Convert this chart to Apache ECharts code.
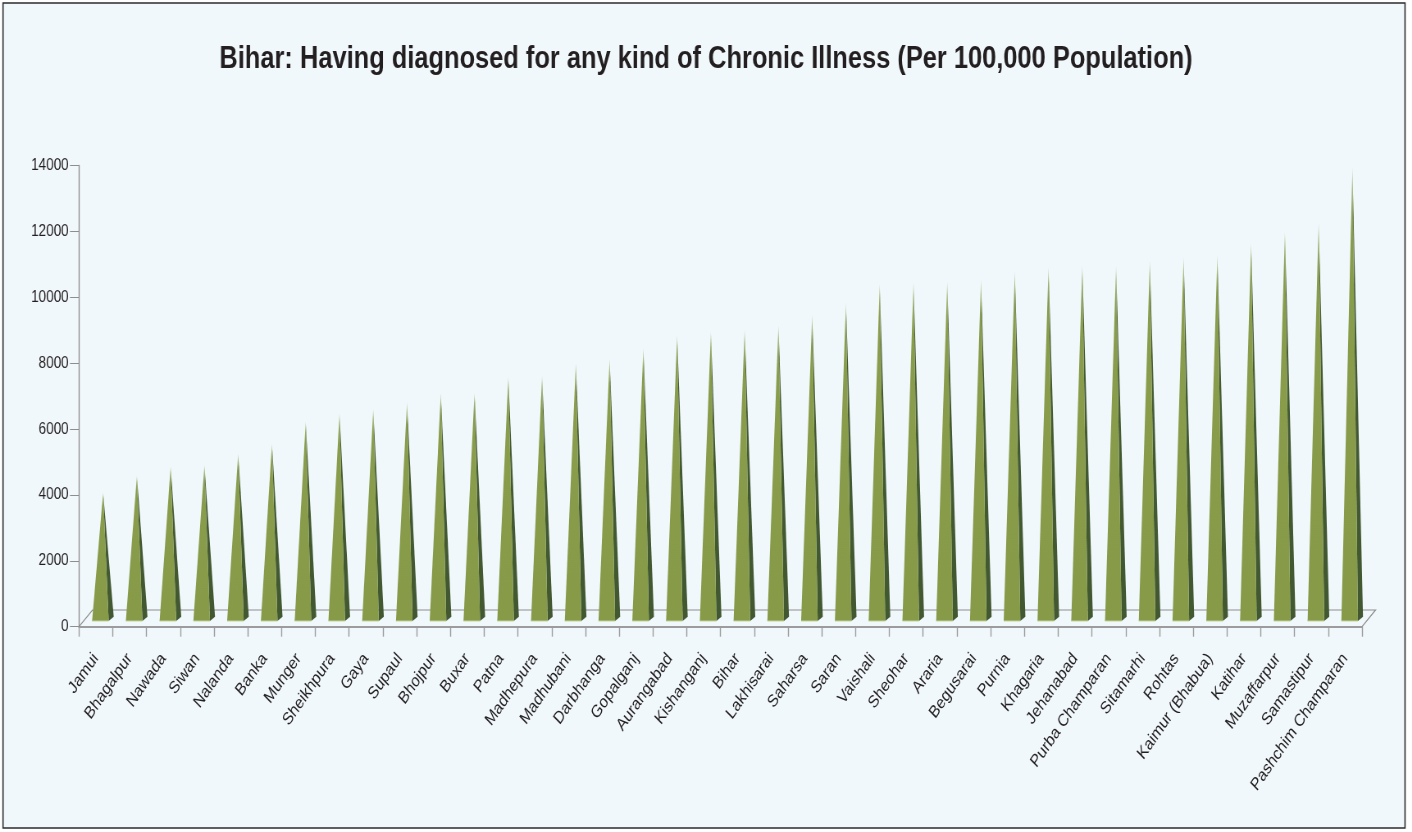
<!DOCTYPE html>
<html>
<head>
<meta charset="utf-8">
<script src="https://cdn.jsdelivr.net/npm/echarts@6/dist/echarts.min.js"></script>
<style>
html,body{margin:0;padding:0;background:#ffffff;overflow:hidden;}
#wrap{width:1412px;height:832px;overflow:hidden;position:relative;}
#chart{width:1722px;height:832px;transform:scaleX(0.82);transform-origin:0 0;}
</style>
</head>
<body>
<div id="wrap"><div id="chart"></div></div>
<script>
const titleText = 'Bihar: Having diagnosed for any kind of Chronic Illness (Per 100,000 Population)';
const categories = ['Jamui','Bhagalpur','Nawada','Siwan','Nalanda','Banka','Munger','Sheikhpura','Gaya','Supaul','Bhojpur','Buxar','Patna','Madhepura','Madhubani','Darbhanga','Gopalganj','Aurangabad','Kishanganj','Bihar','Lakhisarai','Saharsa','Saran','Vaishali','Sheohar','Araria','Begusarai','Purnia','Khagaria','Jehanabad','Purba Champaran','Sitamarhi','Rohtas','Kaimur (Bhabua)','Katihar','Muzaffarpur','Samastipur','Pashchim Champaran'];
const values = [4070,4580,4860,4910,5250,5550,6230,6480,6610,6810,7090,7110,7580,7620,8000,8130,8460,8850,8960,9020,9140,9470,9830,10410,10440,10480,10540,10790,10920,10960,10950,11120,11220,11290,11650,12000,12260,13950];
const yMin = 0, yMax = 14000, yStep = 2000;

const SX = 0.82;
const axisFont = "'Liberation Sans',Arial,Helvetica,sans-serif";
const titleFont = "'Liberation Sans',Arial,Helvetica,sans-serif";

const chart = echarts.init(document.getElementById('chart'), null, {renderer:'canvas'});

function renderFloor(params, api){
  const cs = params.coordSys;
  const x0 = cs.x, x1 = cs.x + cs.width, y0 = cs.y + cs.height;
  const dx = 16.5, dy = 16.7;
  return {
    type:'polyline',
    shape:{points:[[x0,y0],[x0+dx,y0-dy],[x1+dx,y0-dy],[x1,y0]]},
    style:{stroke:'#8e8e8e', lineWidth:1.2, fill:null},
    silent:true
  };
}

function renderPyramid(params, api){
  const i = api.value(0), v = api.value(1);
  const t = api.coord([i, v]);
  const b = api.coord([i, 0]);
  const bw = api.size([1, 0])[0];
  const cx = b[0];
  const L = cx - 0.112*bw, R = cx + 0.379*bw, by = b[1] - 5.7;
  const sdx = 0.15*bw, sdy = 4.3;
  const ax = cx + 0.215*bw, ay = t[1];
  const frontFill = new echarts.graphic.LinearGradient(0,0,0,1,[
    {offset:0, color:'#d3ddb6'},
    {offset:0.04, color:'#a3b56c'},
    {offset:0.1, color:'#899d4c'},
    {offset:1, color:'#869a48'}
  ]);
  const sideFill = new echarts.graphic.LinearGradient(0,0,0,1,[
    {offset:0, color:'#c6d2b0'},
    {offset:0.04, color:'#62783f'},
    {offset:0.1, color:'#445b33'},
    {offset:1, color:'#415830'}
  ]);
  return {
    type:'group',
    children:[
      {type:'polygon', shape:{points:[[R,by],[R+sdx,by-sdy],[ax,ay]]}, style:{fill:sideFill}},
      {type:'polygon', shape:{points:[[L,by],[R,by],[ax,ay]]}, style:{fill:frontFill}},
      {type:'line', shape:{x1:L, y1:by, x2:R, y2:by}, style:{stroke:'#c3d29c', lineWidth:1}}
    ]
  };
}

const option = {
  animation:false,
  backgroundColor:'#ffffff',
  graphic:[{
    type:'rect', z:-10, silent:true,
    shape:{x:3/SX, y:3, width:(1405-3)/SX, height:825},
    style:{fill:'#f1f8fc', stroke:'#2b2b2b', lineWidth:1.6}
  }],
  title:{
    text:titleText,
    left:'center', top:44, padding:0,
    textStyle:{fontFamily:titleFont, fontSize:31, fontWeight:'bold', color:'#231f20'}
  },
  grid:{left:96.3, right:61, top:165.5, bottom:205.3, containLabel:false},
  xAxis:{
    type:'category',
    data:categories,
    boundaryGap:true,
    axisLine:{show:true, lineStyle:{color:'#9c9c9c', width:2}},
    axisTick:{show:true, alignWithLabel:false, length:10, lineStyle:{color:'#9c9c9c', width:1.4}},
    axisLabel:{interval:0, rotate:50, margin:29, fontFamily:axisFont, fontSize:17.5, color:'#231f20'},
    splitLine:{show:false}
  },
  yAxis:{
    type:'value',
    min:yMin, max:yMax, interval:yStep,
    axisLine:{show:true, lineStyle:{color:'#8e8e8e', width:1.4}},
    axisTick:{show:true, length:11, lineStyle:{color:'#8e8e8e', width:1}},
    axisLabel:{margin:12.5, fontFamily:axisFont, fontSize:16.5, color:'#231f20', formatter:function(v){return String(v);}},
    splitLine:{show:false}
  },
  series:[
    {
      type:'custom', name:'floor', z:1, silent:true,
      renderItem:renderFloor,
      data:[[0,0]],
      encode:{x:0, y:1}
    },
    {
      type:'custom', name:'Chronic Illness', z:3,
      renderItem:renderPyramid,
      data:values.map((v,i)=>[i,v]),
      encode:{x:0, y:1}
    }
  ]
};
chart.setOption(option);
</script>
</body>
</html>
